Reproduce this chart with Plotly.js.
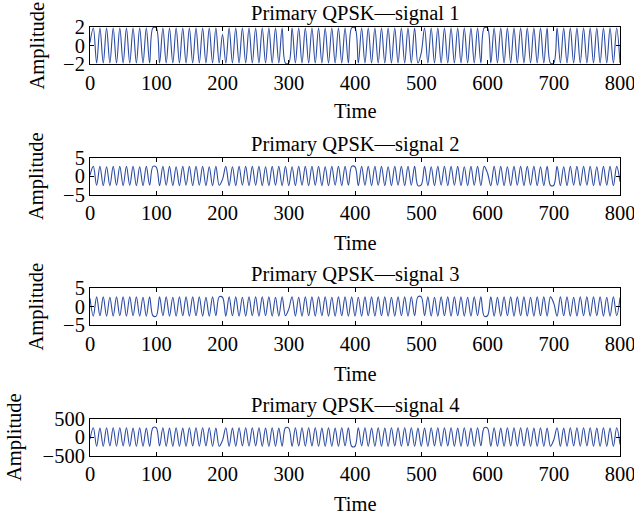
<!DOCTYPE html>
<html>
<head>
<meta charset="utf-8">
<script src="https://cdn.plot.ly/plotly-3.0.1.min.js"></script>
<style>html,body{margin:0;padding:0;background:#fff;}#chart{width:634px;height:520px;}</style>
</head>
<body>
<div id="chart"></div>
<script>
// Sample times (peak/trough sampling of each waveform)
const time = [0,5,10,15,20,25,30,35,40,45,50,55,60,65,70,75,80,85,90,95,
100,105,110,115,120,125,130,135,140,145,150,155,160,165,170,175,180,185,190,195,
200,205,210,215,220,225,230,235,240,245,250,255,260,265,270,275,280,285,290,295,
300,305,310,315,320,325,330,335,340,345,350,355,360,365,370,375,380,385,390,395,
400,405,410,415,420,425,430,435,440,445,450,455,460,465,470,475,480,485,490,495,
500,505,510,515,520,525,530,535,540,545,550,555,560,565,570,575,580,585,590,595,
600,605,610,615,620,625,630,635,640,645,650,655,660,665,670,675,680,685,690,695,
700,705,710,715,720,725,730,735,740,745,750,755,760,765,770,775,780,785,790,795,
800];

const signal1 = [0.3,1.9,-1.9,1.9,-1.9,1.9,-1.9,1.9,-1.9,1.9,-1.9,1.9,-1.9,1.9,-1.9,1.9,-1.9,1.9,-1.9,1.9,
1.9,-1.9,1.9,-1.9,1.9,-1.9,1.9,-1.9,1.9,-1.9,1.9,-1.9,1.9,-1.9,1.9,-1.9,1.9,-1.9,1.9,-1.9,
1.2,-1.9,1.9,-1.9,1.9,-1.9,1.9,-1.9,1.9,-1.9,1.9,-1.9,1.9,-1.9,1.9,-1.9,1.9,-1.9,1.9,-1.9,
-1.9,1.9,-1.9,1.9,-1.9,1.9,-1.9,1.9,-1.9,1.9,-1.9,1.9,-1.9,1.9,-1.9,1.9,-1.9,1.9,-1.9,1.9,
1.9,-1.9,1.9,-1.9,1.9,-1.9,1.9,-1.9,1.9,-1.9,1.9,-1.9,1.9,-1.9,1.9,-1.9,1.9,-1.9,1.9,-1.9,
-0.8,1.9,-1.9,1.9,-1.9,1.9,-1.9,1.9,-1.9,1.9,-1.9,1.9,-1.9,1.9,-1.9,1.9,-1.9,1.9,-1.9,1.9,
1.9,-1.9,1.9,-1.9,1.9,-1.9,1.9,-1.9,1.9,-1.9,1.9,-1.9,1.9,-1.9,1.9,-1.9,1.9,-1.9,1.9,-1.9,
-1.9,1.9,-1.9,1.9,-1.9,1.9,-1.9,1.9,-1.9,1.9,-1.9,1.9,-1.9,1.9,-1.9,1.9,-1.9,1.9,-1.9,1.9,
-1.9];

const signal2 = [0.2,2.6,-2.5,2.6,-2.6,2.5,-2.6,2.6,-2.5,2.6,-2.6,2.6,-2.5,2.6,-2.6,2.5,-2.6,2.6,-2.5,2.6,
2.4,-2.6,2.6,-2.5,2.6,-2.6,2.5,-2.6,2.6,-2.5,2.6,-2.6,2.6,-2.5,2.6,-2.6,2.5,-2.6,2.6,-2.5,
-0.9,2.6,-2.6,2.5,-2.6,2.6,-2.5,2.6,-2.6,2.6,-2.5,2.6,-2.6,2.5,-2.6,2.6,-2.5,2.6,-2.6,2.6,
-2.6,2.5,-2.6,2.6,-2.5,2.6,-2.6,2.6,-2.5,2.6,-2.6,2.5,-2.6,2.6,-2.5,2.6,-2.6,2.6,-2.5,2.6,
2.5,-2.6,2.6,-2.5,2.6,-2.6,2.6,-2.5,2.6,-2.6,2.5,-2.6,2.6,-2.5,2.6,-2.6,2.6,-2.5,2.6,-2.6,
-2.4,2.6,-2.6,2.5,-2.6,2.6,-2.5,2.6,-2.6,2.6,-2.5,2.6,-2.6,2.5,-2.6,2.6,-2.5,2.6,-2.6,2.6,
0.8,-2.6,2.6,-2.5,2.6,-2.6,2.5,-2.6,2.6,-2.5,2.6,-2.6,2.6,-2.5,2.6,-2.6,2.5,-2.6,2.6,-2.5,
-2.5,2.6,-2.6,2.5,-2.6,2.6,-2.5,2.6,-2.6,2.6,-2.5,2.6,-2.6,2.5,-2.6,2.6,-2.5,2.6,-2.6,2.6,
-1.5];

const signal3 = [2.2,-2.6,2.6,-2.5,2.6,-2.6,2.5,-2.6,2.6,-2.5,2.6,-2.6,2.6,-2.5,2.6,-2.6,2.5,-2.6,2.6,-2.5,
-2.6,2.6,-2.5,2.6,-2.6,2.5,-2.6,2.6,-2.5,2.6,-2.6,2.6,-2.5,2.6,-2.6,2.5,-2.6,2.6,-2.5,2.6,
2.5,-2.6,2.6,-2.5,2.6,-2.6,2.5,-2.6,2.6,-2.5,2.6,-2.6,2.6,-2.5,2.6,-2.6,2.5,-2.6,2.6,-2.5,
-0.7,2.6,-2.6,2.5,-2.6,2.6,-2.5,2.6,-2.6,2.6,-2.5,2.6,-2.6,2.5,-2.6,2.6,-2.5,2.6,-2.6,2.6,
-2.6,2.5,-2.6,2.6,-2.5,2.6,-2.6,2.6,-2.5,2.6,-2.6,2.5,-2.6,2.6,-2.5,2.6,-2.6,2.6,-2.5,2.6,
2.6,-2.5,2.6,-2.6,2.5,-2.6,2.6,-2.5,2.6,-2.6,2.6,-2.5,2.6,-2.6,2.5,-2.6,2.6,-2.5,2.6,-2.6,
-2.5,2.6,-2.6,2.5,-2.6,2.6,-2.5,2.6,-2.6,2.6,-2.5,2.6,-2.6,2.5,-2.6,2.6,-2.5,2.6,-2.6,2.6,
0.9,-2.6,2.6,-2.5,2.6,-2.6,2.5,-2.6,2.6,-2.5,2.6,-2.6,2.6,-2.5,2.6,-2.6,2.5,-2.6,2.6,-2.5,
2.4];

const signal4 = [-60,250,-250,240,-250,250,-240,250,-250,250,-240,250,-250,240,-250,250,-250,240,-250,250,
250,-240,250,-250,240,-250,250,-250,240,-250,250,-240,250,-250,250,-240,250,-250,240,-250,
-90,250,-250,240,-250,250,-240,250,-250,250,-240,250,-250,240,-250,250,-250,240,-250,250,
240,-250,250,-240,250,-250,250,-240,250,-250,240,-250,250,-250,240,-250,250,-240,250,-250,
-250,250,-240,250,-250,240,-250,250,-250,240,-250,250,-240,250,-250,250,-240,250,-250,240,
-250,240,-250,250,-240,250,-250,250,-240,250,-250,240,-250,250,-250,240,-250,250,-240,250,
240,-250,250,-250,240,-250,250,-240,250,-250,250,-240,250,-250,240,-250,250,-250,240,-250,
-80,250,-250,240,-250,250,-240,250,-250,250,-240,250,-250,240,-250,250,-250,240,-250,250,
-200];

const titles = ['Primary QPSK\u2014signal 1','Primary QPSK\u2014signal 2','Primary QPSK\u2014signal 3','Primary QPSK\u2014signal 4'];
const yRanges = [[-2,2],[-5,5],[-5,5],[-500,500]];
const yTicks = [[-2,0,2],[-5,0,5],[-5,0,5],[-500,0,500]];
const xTicks = [0,100,200,300,400,500,600,700,800];
const series = [signal1, signal2, signal3, signal4];

const W = 634, H = 520;
const FONT = 'Liberation Serif, Times New Roman, serif';
const FS = 20.5;
const boxTop = [27, 157.5, 288, 418.5];
const boxH = 37;
const plotL = 90, plotR = 620;
const titleY = [13, 144, 274.5, 405];
const timeY = [111, 242.5, 373.5, 504];
const ampX = [37, 36, 36, 14];

const data = [];
const layout = {
  width: W, height: H,
  margin: {l:0, r:0, t:0, b:0},
  paper_bgcolor: '#fff', plot_bgcolor: '#fff',
  showlegend: false,
  font: {family: FONT, size: FS, color: '#000'},
  annotations: []
};

for (let k = 0; k < 4; k++) {
  const xa = k === 0 ? 'x' : 'x' + (k+1);
  const ya = k === 0 ? 'y' : 'y' + (k+1);
  data.push({
    x: time, y: series[k], xaxis: xa, yaxis: ya,
    type: 'scatter', mode: 'lines',
    line: {color: '#2c4ba3', width: 1.1, shape: 'spline', smoothing: 1},
    hoverinfo: 'skip'
  });
  const top = boxTop[k], bot = boxTop[k] + boxH;
  const xkey = k === 0 ? 'xaxis' : 'xaxis' + (k+1);
  const ykey = k === 0 ? 'yaxis' : 'yaxis' + (k+1);
  layout[xkey] = {
    domain: [plotL / W, plotR / W], anchor: ya,
    range: [0, 800], tickvals: xTicks, ticktext: xTicks.map(String),
    ticks: 'inside', ticklen: 4, tickwidth: 1, tickcolor: '#000',
    showline: true, linecolor: '#000', linewidth: 1, mirror: 'ticks',
    showgrid: false, zeroline: false, automargin: false,
    ticklabeloverflow: 'allow',
    tickfont: {family: FONT, size: FS, color: '#000'}
  };
  layout[ykey] = {
    domain: [1 - bot / H, 1 - top / H], anchor: xa,
    range: yRanges[k], tickvals: yTicks[k],
    ticks: 'inside', ticklen: 4, tickwidth: 1, tickcolor: '#000',
    showline: true, linecolor: '#000', linewidth: 1, mirror: 'ticks',
    showgrid: false, zeroline: false, automargin: false,
    ticklabeloverflow: 'allow',
    tickfont: {family: FONT, size: FS, color: '#000'}
  };
  layout.annotations.push({
    text: titles[k], xref: 'paper', yref: 'paper',
    x: ((plotL + plotR) / 2) / W, y: 1 - titleY[k] / H,
    xanchor: 'center', yanchor: 'middle', showarrow: false,
    font: {family: FONT, size: FS, color: '#000'}
  });
  layout.annotations.push({
    text: 'Time', xref: 'paper', yref: 'paper',
    x: ((plotL + plotR) / 2) / W, y: 1 - timeY[k] / H,
    xanchor: 'center', yanchor: 'middle', showarrow: false,
    font: {family: FONT, size: FS, color: '#000'}
  });
  layout.annotations.push({
    text: 'Amplitude', xref: 'paper', yref: 'paper',
    x: ampX[k] / W, y: 1 - (top + boxH / 2) / H,
    xanchor: 'center', yanchor: 'middle', showarrow: false, textangle: -90,
    font: {family: FONT, size: FS, color: '#000'}
  });
}

Plotly.newPlot('chart', data, layout, {displayModeBar: false, staticPlot: true});
</script>
</body>
</html>
